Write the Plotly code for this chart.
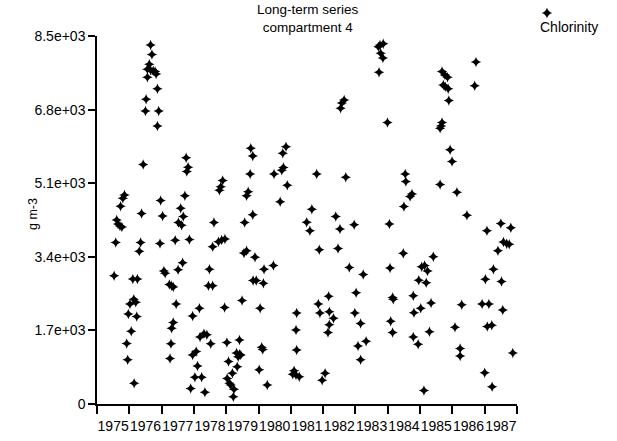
import plotly.graph_objects as go

W, H = 617, 441

# Sampling dates (decimal years) and chlorinity readings (g m-3), compartment 4
decimal_year = [
    1975.53, 1975.58, 1975.61, 1975.65, 1975.71, 1975.73, 1975.77, 1975.80, 1975.85, 1975.92,
    1975.95, 1975.97, 1976.02, 1976.06, 1976.11, 1976.14, 1976.15, 1976.20, 1976.23, 1976.25,
    1976.31, 1976.35, 1976.38, 1976.43, 1976.50, 1976.52, 1976.56, 1976.56, 1976.62, 1976.66,
    1976.66, 1976.70, 1976.74, 1976.80, 1976.83, 1976.87, 1976.87, 1976.91, 1976.95, 1976.97,
    1977.03, 1977.07, 1977.11, 1977.24, 1977.26, 1977.29, 1977.31, 1977.31, 1977.36, 1977.36,
    1977.42, 1977.45, 1977.51, 1977.52, 1977.59, 1977.62, 1977.65, 1977.67, 1977.72, 1977.76,
    1977.78, 1977.82, 1977.86, 1977.90, 1977.96, 1977.96, 1978.03, 1978.07, 1978.11, 1978.17,
    1978.19, 1978.24, 1978.31, 1978.34, 1978.40, 1978.45, 1978.48, 1978.52, 1978.58, 1978.58,
    1978.62, 1978.76, 1978.79, 1978.83, 1978.86, 1978.89, 1978.95, 1978.96, 1979.02, 1979.03,
    1979.07, 1979.10, 1979.14, 1979.19, 1979.22, 1979.24, 1979.32, 1979.34, 1979.37, 1979.41,
    1979.41, 1979.45, 1979.49, 1979.55, 1979.57, 1979.63, 1979.63, 1979.68, 1979.74, 1979.76,
    1979.82, 1979.82, 1979.83, 1979.89, 1979.93, 1980.02, 1980.05, 1980.10, 1980.13, 1980.15,
    1980.17, 1980.27, 1980.46, 1980.48, 1980.67, 1980.72, 1980.75, 1980.77, 1980.85, 1980.89,
    1981.06, 1981.10, 1981.16, 1981.16, 1981.18, 1981.18, 1981.26, 1981.49, 1981.59, 1981.65,
    1981.80, 1981.85, 1981.88, 1981.90, 1981.97, 1982.06, 1982.15, 1982.17, 1982.19, 1982.19,
    1982.32, 1982.39, 1982.46, 1982.52, 1982.54, 1982.58, 1982.65, 1982.70, 1982.81, 1982.96,
    1982.98, 1983.02, 1983.08, 1983.16, 1983.16, 1983.24, 1983.33, 1983.71, 1983.73, 1983.76,
    1983.78, 1983.85, 1983.86, 1983.99, 1984.05, 1984.07, 1984.09, 1984.15, 1984.15, 1984.17,
    1984.48, 1984.50, 1984.54, 1984.56, 1984.69, 1984.75, 1984.79, 1984.79, 1984.81, 1984.94,
    1984.96, 1985.02, 1985.05, 1985.12, 1985.14, 1985.19, 1985.23, 1985.29, 1985.34, 1985.41,
    1985.62, 1985.62, 1985.65, 1985.68, 1985.68, 1985.72, 1985.77, 1985.78, 1985.85, 1985.87,
    1985.89, 1985.93, 1985.99, 1986.08, 1986.14, 1986.24, 1986.24, 1986.29, 1986.45, 1986.69,
    1986.73, 1986.92, 1987.00, 1987.02, 1987.07, 1987.08, 1987.13, 1987.22, 1987.23, 1987.27,
    1987.41, 1987.50, 1987.52, 1987.56, 1987.58, 1987.68, 1987.76, 1987.81, 1987.87,
]

chlorinity = [
    2960, 3730, 4250, 4160, 4110, 4570, 4090, 4750, 4830, 1400,
    1020, 2080, 2310, 1680, 2890, 2420, 480, 2350, 2020, 2890,
    3530, 3730, 4400, 5530, 6770, 7040, 7730, 7550, 7850, 8290,
    7710, 8070, 7700, 7680, 7620, 7280, 6420, 6770, 3710, 4700,
    4340, 3070, 3020, 2760, 1050, 1390, 2730, 1750, 2700, 1880,
    3780, 2310, 3100, 4190, 4520, 4130, 3260, 4330, 4810, 5690,
    5370, 5470, 3800, 360, 2030, 1130, 620, 1210, 880, 2210,
    1550, 620, 1620, 270, 1600, 2730, 3110, 1390, 3630, 2730,
    4190, 3750, 4940, 5020, 3790, 5160, 2230, 3810, 1420, 590,
    980, 480, 440, 710, 170, 340, 1180, 860, 1090, 1480,
    1150, 1130, 2390, 3490, 4190, 3540, 4810, 4900, 5310, 5910,
    4370, 5730, 2850, 3390, 2850, 790, 2210, 1310, 1260, 2790,
    3110, 440, 3200, 5310, 4670, 5400, 5790, 5460, 5940, 5050,
    690, 770, 1710, 670, 2100, 1250, 630, 4200, 4000, 4500,
    5310, 2310, 3560, 2100, 550, 710, 1650, 2490, 2130, 1830,
    1980, 4330, 3590, 4040, 6830, 6950, 7020, 5240, 3150, 4140,
    2100, 2570, 1340, 1860, 1020, 2990, 1450, 8250, 7660, 8290,
    8100, 7990, 8320, 6500, 4160, 3140, 1910, 2460, 1650, 2420,
    3480, 4560, 5310, 5140, 4790, 4850, 2500, 1550, 2110, 1380,
    2860, 2210, 3170, 310, 3200, 2800, 3070, 1670, 2330, 3400,
    6370, 5070, 6420, 7680, 6500, 7370, 7600, 7330, 7550, 7280,
    7010, 5870, 5600, 1770, 4890, 1280, 1110, 2290, 4360, 7350,
    7900, 2310, 720, 2880, 4000, 1790, 2310, 1820, 400, 3110,
    3540, 4170, 2830, 2170, 3740, 3700, 3690, 4070, 1180,
]

y_tick_values = [0, 1700, 3400, 5100, 6800, 8500]
y_tick_labels = ["0", "1.7e+03", "3.4e+03", "5.1e+03", "6.8e+03", "8.5e+03"]
years = list(range(1975, 1988))
year_labels = [str(y) for y in years]

FONT = "Liberation Sans, Arial, Helvetica, sans-serif"
INK = "black"
MARKER_SIZE = 7.5

# plot frame in pixels
left, right, top, bottom = 97, 517, 36, 404


def paper_x(px):
    return (px - left) / (right - left)


def paper_y(py):
    return (bottom - py) / (bottom - top)


def star_diamond_path(size):
    """Four-pointed star outline (pixel offsets) matching the scatter symbol."""
    tip = size * 0.7
    ctrl = tip * 0.22
    return (f"M{-tip},0 Q{-ctrl},{ctrl} 0,{tip} Q{ctrl},{ctrl} {tip},0 "
            f"Q{ctrl},{-ctrl} 0,{-tip} Q{-ctrl},{-ctrl} {-tip},0 Z")


fig = go.Figure()
fig.add_trace(go.Scatter(
    x=decimal_year, y=chlorinity, mode="markers", name="Chlorinity",
    marker=dict(symbol="star-diamond", size=MARKER_SIZE, color=INK, line=dict(width=0)),
    showlegend=False, cliponaxis=False,
))

axis_common = dict(
    showline=True, linecolor=INK, linewidth=1.5, showgrid=False, zeroline=False,
    tickfont=dict(family=FONT, size=14, color=INK), automargin=False,
)

fig.update_layout(
    width=W, height=H, autosize=False,
    margin=dict(l=left, r=W - right, t=top, b=H - bottom, pad=0, autoexpand=False),
    paper_bgcolor="white", plot_bgcolor="white",
    font=dict(family=FONT, size=14, color=INK),
    showlegend=False,
    xaxis=dict(
        axis_common,
        range=[1975, 1988],
        tickmode="array", tickvals=[y + 0.5 for y in years], ticktext=year_labels,
        ticks="outside", ticklen=8, tickcolor="rgba(0,0,0,0)", tickangle=0,
        minor=dict(tickmode="array", tickvals=list(range(1975, 1989)), ticks="outside",
                   ticklen=8, tickwidth=1.5, tickcolor=INK, showgrid=False),
    ),
    yaxis=dict(
        axis_common,
        range=[0, 8500],
        tickmode="array", tickvals=y_tick_values, ticktext=y_tick_labels,
        ticks="outside", ticklen=7, tickwidth=1.5, tickcolor=INK,
    ),
    shapes=[
        # legend key drawn above the series name
        dict(type="path", path=star_diamond_path(MARKER_SIZE),
             xref="paper", yref="paper", xsizemode="pixel", ysizemode="pixel",
             xanchor=paper_x(547), yanchor=paper_y(13),
             fillcolor=INK, line=dict(width=0)),
    ],
    annotations=[
        dict(text="Long-term series<br>compartment 4", x=paper_x(308), y=paper_y(19),
             xref="paper", yref="paper", xanchor="center", yanchor="middle",
             showarrow=False, font=dict(family=FONT, size=13.5, color=INK)),
        dict(text="Chlorinity", x=paper_x(569), y=paper_y(27), xref="paper", yref="paper",
             xanchor="center", yanchor="middle", showarrow=False,
             font=dict(family=FONT, size=14, color=INK)),
        dict(text="g m-3", x=paper_x(33), y=paper_y(214), xref="paper", yref="paper",
             textangle=-90, xanchor="center", yanchor="middle", showarrow=False,
             font=dict(family=FONT, size=12.5, color=INK)),
    ],
)

fig.write_html("out.html")
